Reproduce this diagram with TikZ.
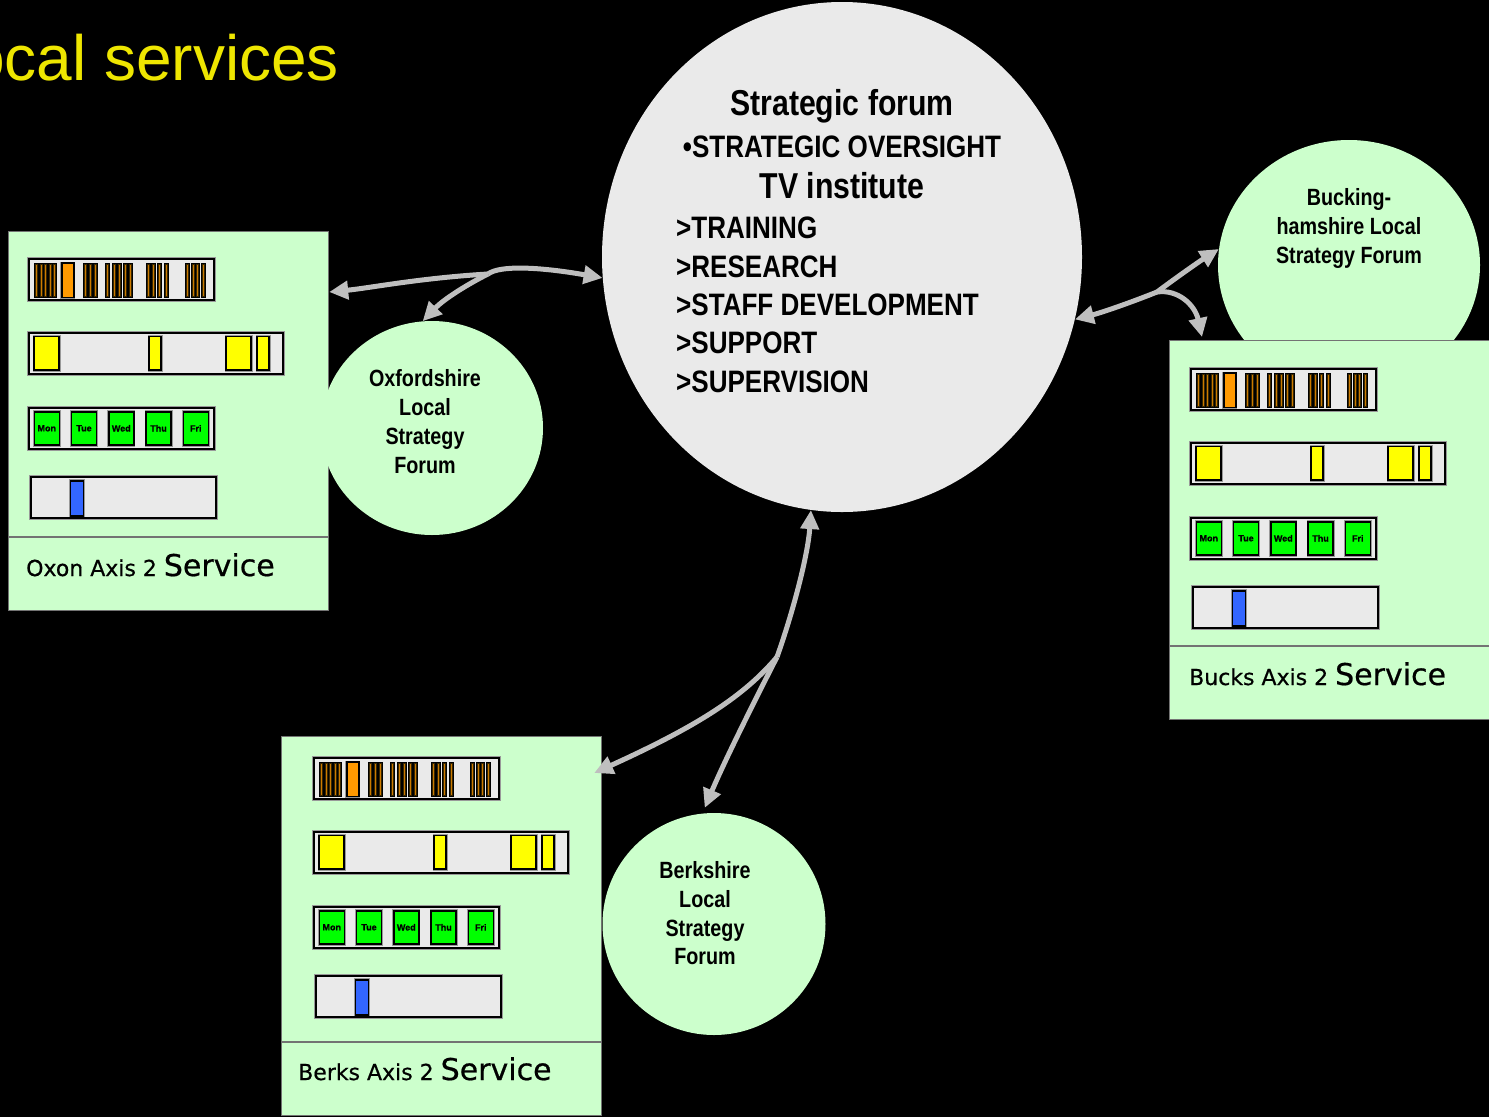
\documentclass[tikz,border=0pt]{standalone}
\usepackage{fontspec}
\setmainfont{Liberation Sans}
\newfontfamily\narrowbold[FakeStretch=0.84]{Liberation Sans Bold}
\newfontfamily\panelfont[FakeBold=0.6]{DejaVu Sans}
\newfontfamily\dayfont[FakeBold=1]{Liberation Sans Bold}
\usetikzlibrary{shapes.geometric,arrows.meta,calc}

\definecolor{panelgreen}{HTML}{CCFFCC}
\definecolor{forumgray}{HTML}{EAEAEA}
\definecolor{linkgray}{HTML}{BFBFBF}
\definecolor{titleyellow}{HTML}{EEE600}
\definecolor{baryellow}{HTML}{FFFF00}
\definecolor{barorange}{HTML}{FF9900}
\definecolor{bargreen}{HTML}{00FF00}
\definecolor{barblue}{HTML}{3366FF}
\definecolor{barbrown}{HTML}{3A2800}

\tikzset{
  forum/.style={ellipse, fill=panelgreen, inner sep=0pt},
  panelbox/.style={rectangle, draw=black!55, line width=1.2pt, fill=panelgreen,
    inner sep=0pt, anchor=north west},
  strip/.style={draw=black, line width=1.8pt, fill=forumgray,
    preaction={draw=black!40, line width=3.2pt}},
  block/.style={draw=black, line width=1.6pt, preaction={draw=black!40, line width=3pt}},
  thinbar/.style={draw=black, line width=0.9pt, fill=barbrown},
  link/.style={draw=linkgray, line width=5pt, -{Triangle[length=19pt,width=18pt]}},
  circletext/.style={font=\narrowbold\fontsize{23.5}{29}\selectfont, inner sep=0pt, anchor=base},
  headtext/.style={font=\narrowbold\fontsize{36}{40}\selectfont, inner sep=0pt, anchor=base},
  subtext/.style={font=\narrowbold\fontsize{31}{36}\selectfont, inner sep=0pt, anchor=base},
  itemtext/.style={font=\narrowbold\fontsize{31}{36}\selectfont, inner sep=0pt, anchor=base west},
  labeltext/.style={font=\panelfont\fontsize{22}{26}\selectfont, inner sep=0pt, anchor=base west},
  daytext/.style={font=\dayfont\fontsize{9}{9}\selectfont, inner sep=0pt},
}

% A local service panel: name, panel corner, strip origin, caption baseline, county
\newcommand\servicepanel[8]{%
  \node[panelbox, minimum width=320pt, minimum height=305pt] (#1panel) at (#2,#3) {};
  \node[panelbox, minimum width=320pt, minimum height=73pt] (#1label) at (#1panel.south west) {};
  \node[labeltext] (#1caption) at (#6,#7) {#8 Axis 2 {\fontsize{30}{30}\selectfont Service}};
  \begin{scope}[shift={(#4,#5)}]
    % session timeline
    \draw[strip] (0,0) rectangle (185,41);
    \foreach \b in {5,10,14.5,19.5,23.5,54.7,59.3,64,76,83.3,88.7,94.7,99.3,117.3,122.7,128,135.3,156,162,166.7,172} {
      \draw[thinbar] (\b,4) rectangle ++(4,34.3);
      \draw[barorange!80!black, line width=0.6pt] (\b+2,5.5) -- ++(0,31.3);
    }
    \draw[block, fill=barorange] (32.7,4) rectangle (44.7,38.3);
    % clinic slots
    \draw[strip] (0,74) rectangle (254,115);
    \foreach \a/\w in {5/25,120/12,197/25,228/12}
      \draw[block, fill=baryellow] (\a,77.5) rectangle ++(\w,33.5);
    % working week
    \draw[strip] (0,149) rectangle (185,190);
    \foreach \i/\d in {0/Mon,1/Tue,2/Wed,3/Thu,4/Fri} {
      \draw[block, fill=bargreen] ({5.3+37.25*\i},152.7) rectangle ++(25,33.3);
      \node[daytext] (#1day\i) at ({17.8+37.25*\i},169.3) {\d};
    }
    % single marker
    \draw[strip] (2,218) rectangle (187,259);
    \draw[block, fill=barblue] (41.3,221.7) rectangle (54.6,256.7);
  \end{scope}
}

\begin{document}
\begin{tikzpicture}[x=1pt, y=-1pt]
  \useasboundingbox (0,0) rectangle (1489,1117);
  \clip (0,0) rectangle (1489,1117);
  \fill[black] (0,0) rectangle (1489,1117);

  % heading, running off the left edge
  \node[font=\fontsize{64}{64}\selectfont, text=titleyellow, anchor=base west, inner sep=0pt]
    (title) at (-31,80) {ocal services};

  % strategic forum
  \node[ellipse, fill=forumgray, minimum width=480pt, minimum height=510pt, inner sep=0pt]
    (central) at (842,257) {};
  \node[headtext] (cf1) at (842,115) {Strategic forum};
  \node[subtext]  (cf2) at (842,157) {•STRATEGIC OVERSIGHT};
  \node[headtext] (cf3) at (842,198) {TV institute};
  \node[itemtext] (cf4) at (676,238) {>TRAINING};
  \node[itemtext] (cf5) at (676,277) {>RESEARCH};
  \node[itemtext] (cf6) at (676,315) {>STAFF DEVELOPMENT};
  \node[itemtext] (cf7) at (676,353) {>SUPPORT};
  \node[itemtext] (cf8) at (676,392) {>SUPERVISION};

  % Buckinghamshire forum sits behind its panel
  \node[forum, minimum width=262pt, minimum height=250pt] (bucksf) at (1349,265) {};
  \node[circletext] (bf1) at (1349,205) {Bucking-};
  \node[circletext] (bf2) at (1349,234) {hamshire Local};
  \node[circletext] (bf3) at (1349,263) {Strategy Forum};

  % service panels
  \servicepanel{oxon}{8}{231}{29}{259}{26}{576}{Oxon}
  \servicepanel{bucks}{1169}{340}{1191}{369}{1189}{685}{Bucks}
  \servicepanel{berks}{281}{736}{314}{758}{298}{1080}{Berks}

  % local forums
  \node[forum, minimum width=222pt, minimum height=214pt] (oxf) at (432,428) {};
  \node[circletext] (of1) at (425,386) {Oxfordshire};
  \node[circletext] (of2) at (425,415) {Local};
  \node[circletext] (of3) at (425,444) {Strategy};
  \node[circletext] (of4) at (425,473) {Forum};

  \node[forum, minimum width=223pt, minimum height=222pt] (berksf) at (714,924) {};
  \node[circletext] (kf1) at (705,878) {Berkshire};
  \node[circletext] (kf2) at (705,907) {Local};
  \node[circletext] (kf3) at (705,936) {Strategy};
  \node[circletext] (kf4) at (705,964) {Forum};

  % links: Oxfordshire
  \coordinate (jw) at (488,274);
  \draw[link] (jw) .. controls (420,278) and (370,288) .. ($(oxonpanel.north east)+(0,61)$);
  \draw[link] (jw) .. controls (500,265) and (540,267) .. (central.185);
  \draw[link] (jw) .. controls (470,283) and (445,298) .. (oxf.95);

  % links: Buckinghamshire
  \coordinate (je) at (1157,292);
  \draw[link] (je) .. controls (1127,304) and (1100,313) .. (central.345);
  \draw[link] (je) .. controls (1177,277) and (1200,261) .. (bucksf.173);
  \draw[link] (je) .. controls (1178,289) and (1195,305) .. ($(buckspanel.north west)+(33,-3)$);

  % links: Berkshire
  \coordinate (js) at (777,657);
  \draw[link] (js) .. controls (793,612) and (808,555) .. (central.263);
  \draw[link] (js) .. controls (745,695) and (700,725) .. ($(berkspanel.north east)+(-8,37)$);
  \draw[link, shorten >=6pt] (js) .. controls (755,700) and (725,760) .. (berksf.96);
\end{tikzpicture}
\end{document}
